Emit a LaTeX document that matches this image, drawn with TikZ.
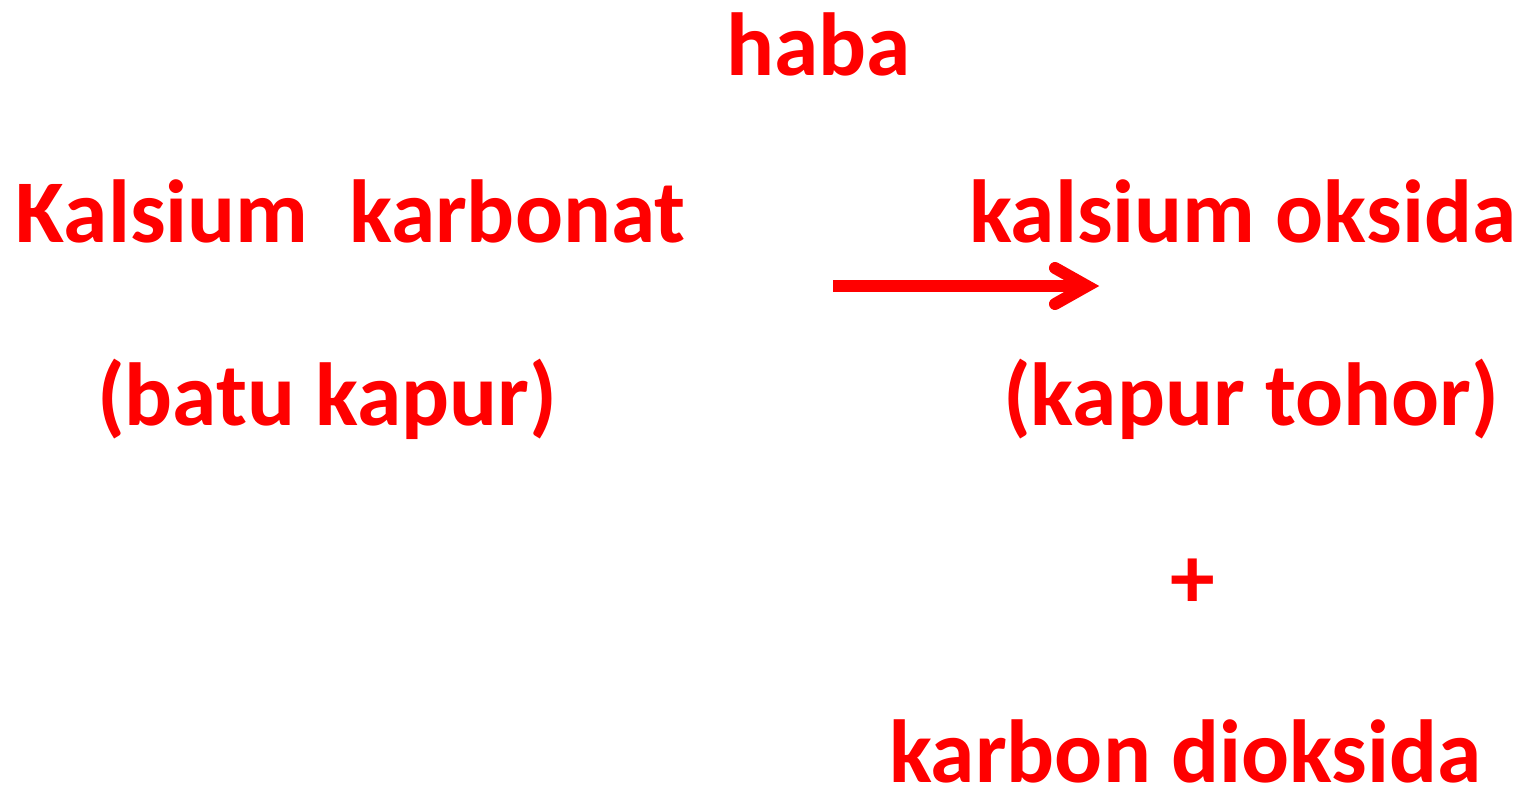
\documentclass[tikz,border=0pt]{standalone}
\usepackage{fontspec}
\setmainfont{Carlito}
\definecolor{rred}{RGB}{255,0,0}
\begin{document}
\begin{tikzpicture}[x=1pt,y=-1pt,
  lbl/.style={inner sep=0pt,outer sep=0pt,anchor=base west,text=rred,font=\fontsize{89.5}{89.5}\selectfont\bfseries},
  arr/.style={draw=rred,line width=12pt}]
\useasboundingbox (0,0) rectangle (1518,793);
\node[lbl] (haba) at (726,75) {haba};
\node[lbl] (kk) at (16,242) {Kalsium\ \ karbonat};
\node[lbl] (ko) at (969,242) {kalsium oksida};
\node[lbl] (bk) at (97,425) {(batu kapur)};
\node[lbl] (kt) at (1003,425) {(kapur tohor)};
\node[lbl] (plus) at (1170,608) {+};
\node[lbl] (kd) at (889,782) {karbon dioksida};
\coordinate (a1) at (833,286);
\coordinate (a2) at (1087,286);
\draw[arr] (a1) -- (1080,286);
\draw[arr,line cap=round,line join=miter] (1055,268) -- (a2) -- (1055,304);
\end{tikzpicture}
\end{document}
